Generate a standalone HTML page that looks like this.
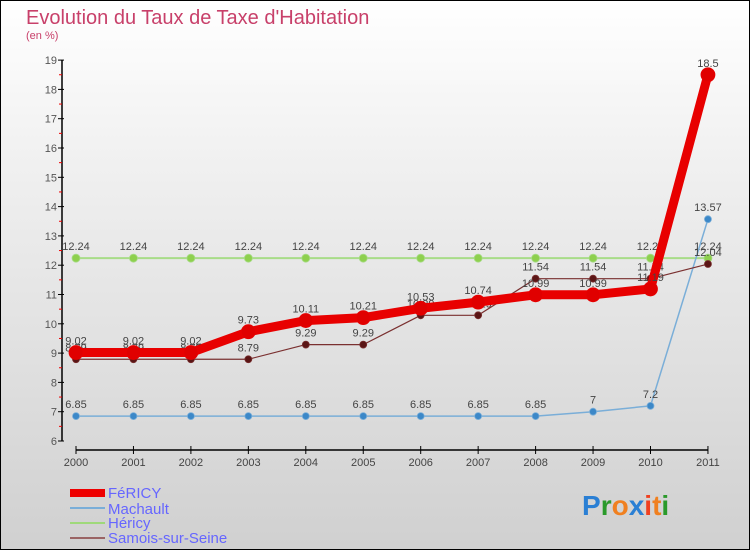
<!DOCTYPE html>
<html><head><meta charset="utf-8"><style>
body{margin:0}
#c{width:750px;height:550px;position:relative;box-sizing:border-box;border:1px solid #000;background:linear-gradient(#fff,#f0f0f0 30%,#d0d0d0);font-family:"Liberation Sans",sans-serif;overflow:hidden}
</style></head><body>
<div id="c">
<svg width="750" height="550" style="position:absolute;left:-1px;top:-1px">
<text x="26" y="24" font-size="20" fill="#c8406a">Evolution du Taux de Taxe d'Habitation</text>
<text x="26" y="39" font-size="11" fill="#c8406a">(en %)</text>
<g id="axes"></g><g id="series"></g>
<g>
<rect x="70" y="489" width="35" height="8" fill="#e00"/>
<text x="108" y="498" font-size="15" fill="#66f">FéRICY</text>
<rect x="70" y="507" width="35" height="2" fill="#7aaed8"/>
<text x="108" y="514" font-size="15" fill="#66f">Machault</text>
<rect x="70" y="522" width="35" height="2" fill="#9fd97a"/>
<text x="108" y="528" font-size="15" fill="#66f">Héricy</text>
<rect x="70" y="537" width="35" height="2" fill="#9a6464"/>
<text x="108" y="543" font-size="15" fill="#66f">Samois-sur-Seine</text>
</g>
<text x="582" y="515" font-size="28" font-weight="bold"><tspan fill="#2a7fd4">P</tspan><tspan fill="#2a9a2a">r</tspan><tspan fill="#f08020">o</tspan><tspan fill="#2a7fd4">x</tspan><tspan fill="#f04020">i</tspan><tspan fill="#f08020">t</tspan><tspan fill="#2a9a2a">i</tspan></text>
</svg>
</div>
<script>
const years=[2000,2001,2002,2003,2004,2005,2006,2007,2008,2009,2010,2011];
const yTicks=[6,7,8,9,10,11,12,13,14,15,16,17,18,19];
const fericy=[9.02,9.02,9.02,9.73,10.11,10.21,10.53,10.74,10.99,10.99,11.19,18.5];
const machault=[6.85,6.85,6.85,6.85,6.85,6.85,6.85,6.85,6.85,7,7.2,13.57];
const hericy=[12.24,12.24,12.24,12.24,12.24,12.24,12.24,12.24,12.24,12.24,12.24,12.24];
const samois=[8.79,8.79,8.79,8.79,9.29,9.29,10.29,10.29,11.54,11.54,11.54,12.04];
const NS="http://www.w3.org/2000/svg";
const X=i=>76+i*57.45, Y=v=>441-(v-6)*29.3;
function mk(t,a,p){const e=document.createElementNS(NS,t);for(const k in a)e.setAttribute(k,a[k]);p.appendChild(e);return e;}
const ax=document.getElementById('axes'), sg=document.getElementById('series');
let l=mk('line',{x1:62,y1:Y(19),x2:62,y2:Y(6),stroke:'#000','stroke-width':1.5},ax);


yTicks.forEach(v=>{
 let t=mk('line',{x1:58,y1:Y(v),x2:64,y2:Y(v),stroke:'#000'},ax);
 
 
 if(v<19){let m=mk('line',{x1:59,y1:Y(v+0.5),x2:62,y2:Y(v+0.5),stroke:'#e00'},ax);
 
 }
 let tx=mk('text',{x:57,y:Y(v)+4,'font-size':11,fill:'#555','text-anchor':'end'},ax);tx.textContent=v;
 
 
});
l=mk('line',{x1:X(0),y1:450,x2:X(11),y2:450,stroke:'#000','stroke-width':1.5},ax);


years.forEach((y,i)=>{
 let t=mk('line',{x1:X(i),y1:446,x2:X(i),y2:454,stroke:'#000'},ax);
 
 
 let tx=mk('text',{x:X(i),y:466,'font-size':11,fill:'#444','text-anchor':'middle'},ax);tx.textContent=y;
 
 
});
function series(vals,color,w,r,dot,name,lblColor){
 const g=mk('g',{},sg);
 
 
 let p=mk('polyline',{points:vals.map((v,i)=>X(i)+','+Y(v)).join(' '),fill:'none',stroke:color,'stroke-width':w,'stroke-linejoin':'round'},g);
 
 
 vals.forEach((v,i)=>{
  let c=mk('circle',{cx:X(i),cy:Y(v),r:r,fill:dot,stroke:color,'stroke-width':0.8},g);
  
  
  let t=mk('text',{x:X(i),y:Y(v)-8,'font-size':11,fill:'#444','text-anchor':'middle'},g);t.textContent=v;
  
  
 });
}
series(hericy,'#a8dc88',2,4,'#8ed04e','hericy');
series(machault,'#7aaed8',1.5,3.5,'#3c88c8','machault');
series(samois,'#7a3030',1.2,3.5,'#5a1515','samois');
series(fericy,'#e80000',9,7,'#e00000','fericy');
</script>
</body></html>
